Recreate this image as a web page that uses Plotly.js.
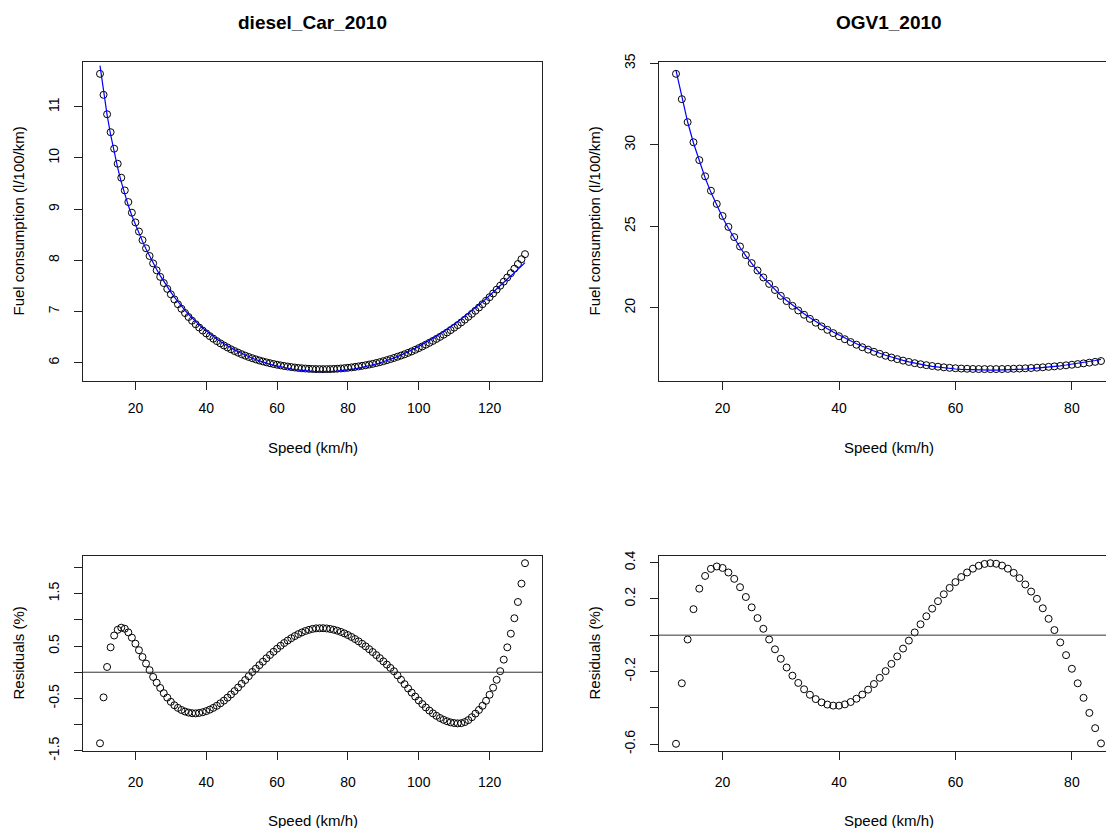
<!DOCTYPE html>
<html>
<head>
<meta charset="utf-8">
<script src="https://cdn.plot.ly/plotly-3.0.1.min.js"></script>
<style>html,body{margin:0;padding:0;background:#fff;}#plot{width:1106px;height:828px;}</style>
</head>
<body>
<div id="plot"></div>
<script>
// ---- diesel_Car_2010 ----
const dieselSpeed = [10,11,12,13,14,15,16,17,18,19,20,21,22,23,24,25,26,27,28,29,30,31,32,33,34,35,36,37,38,39,40,41,42,43,44,45,46,47,48,49,50,51,52,53,54,55,56,57,58,59,60,61,62,63,64,65,66,67,68,69,70,71,72,73,74,75,76,77,78,79,80,81,82,83,84,85,86,87,88,89,90,91,92,93,94,95,96,97,98,99,100,101,102,103,104,105,106,107,108,109,110,111,112,113,114,115,116,117,118,119,120,121,122,123,124,125,126,127,128,129,130];
const dieselFC = [11.642,11.232,10.852,10.502,10.180,9.885,9.613,9.365,9.138,8.930,8.740,8.562,8.394,8.235,8.084,7.940,7.805,7.677,7.556,7.442,7.336,7.236,7.142,7.054,6.971,6.893,6.820,6.752,6.688,6.628,6.572,6.519,6.469,6.422,6.378,6.337,6.298,6.262,6.228,6.196,6.166,6.138,6.112,6.088,6.065,6.044,6.025,6.007,5.990,5.975,5.961,5.948,5.936,5.925,5.915,5.906,5.898,5.891,5.886,5.881,5.878,5.876,5.875,5.874,5.875,5.876,5.879,5.883,5.888,5.894,5.901,5.909,5.918,5.928,5.939,5.951,5.964,5.978,5.994,6.011,6.030,6.050,6.071,6.093,6.116,6.140,6.165,6.192,6.221,6.252,6.285,6.318,6.353,6.389,6.426,6.465,6.505,6.547,6.591,6.637,6.685,6.735,6.787,6.841,6.897,6.955,7.015,7.078,7.143,7.210,7.280,7.352,7.427,7.504,7.583,7.665,7.749,7.837,7.928,8.022,8.120];
const dieselResid = [-1.356,-0.48,0.10,0.475,0.70,0.81,0.85,0.83,0.76,0.66,0.545,0.42,0.29,0.165,0.04,-0.09,-0.20,-0.30,-0.40,-0.485,-0.565,-0.63,-0.68,-0.72,-0.75,-0.77,-0.782,-0.785,-0.777,-0.763,-0.742,-0.714,-0.68,-0.64,-0.593,-0.542,-0.485,-0.424,-0.36,-0.292,-0.221,-0.149,-0.075,0.005,0.068,0.135,0.201,0.266,0.33,0.39,0.449,0.505,0.557,0.605,0.649,0.69,0.727,0.759,0.787,0.809,0.826,0.837,0.839,0.84,0.835,0.825,0.811,0.792,0.769,0.741,0.709,0.673,0.633,0.59,0.543,0.494,0.44,0.385,0.327,0.269,0.207,0.145,0.082,0.019,-0.06,-0.144,-0.228,-0.31,-0.389,-0.465,-0.539,-0.607,-0.672,-0.731,-0.785,-0.832,-0.874,-0.908,-0.936,-0.957,-0.97,-0.976,-0.972,-0.951,-0.913,-0.858,-0.79,-0.72,-0.64,-0.545,-0.43,-0.295,-0.145,0.02,0.24,0.475,0.735,1.03,1.34,1.69,2.08];

// ---- OGV1_2010 ----
const ogvSpeed = [12,13,14,15,16,17,18,19,20,21,22,23,24,25,26,27,28,29,30,31,32,33,34,35,36,37,38,39,40,41,42,43,44,45,46,47,48,49,50,51,52,53,54,55,56,57,58,59,60,61,62,63,64,65,66,67,68,69,70,71,72,73,74,75,76,77,78,79,80,81,82,83,84,85];
const ogvFC = [34.355,32.80,31.39,30.155,29.06,28.065,27.18,26.37,25.63,24.96,24.335,23.76,23.23,22.74,22.285,21.86,21.463,21.09,20.73,20.41,20.115,19.835,19.57,19.32,19.083,18.858,18.645,18.443,18.251,18.069,17.896,17.731,17.576,17.431,17.296,17.17,17.053,16.945,16.846,16.756,16.674,16.60,16.534,16.476,16.425,16.381,16.344,16.313,16.288,16.269,16.255,16.245,16.239,16.236,16.235,16.236,16.24,16.247,16.257,16.269,16.284,16.302,16.323,16.346,16.372,16.401,16.432,16.467,16.503,16.543,16.586,16.631,16.679,16.73];
const ogvResid = [-0.598,-0.265,-0.024,0.143,0.256,0.326,0.365,0.378,0.37,0.345,0.31,0.264,0.21,0.153,0.094,0.035,-0.024,-0.078,-0.13,-0.178,-0.223,-0.263,-0.298,-0.328,-0.352,-0.37,-0.382,-0.388,-0.388,-0.381,-0.368,-0.35,-0.327,-0.3,-0.269,-0.235,-0.198,-0.158,-0.117,-0.074,-0.03,0.015,0.06,0.104,0.146,0.187,0.225,0.26,0.292,0.32,0.345,0.366,0.382,0.392,0.396,0.393,0.383,0.366,0.343,0.314,0.279,0.24,0.2,0.148,0.09,0.028,-0.04,-0.11,-0.185,-0.265,-0.345,-0.428,-0.512,-0.596];

// fitted curve implied by the points and their % residuals
const dieselFit = dieselFC.map((v, i) => v / (1 + dieselResid[i] / 100));
const ogvFit = ogvFC.map((v, i) => v / (1 + ogvResid[i] / 100));

const FONT = 'Liberation Sans, Arial, Helvetica, sans-serif';
const W = 1106, H = 828;
const px = x => x / W;
const py = y => 1 - y / H;

const marker = {symbol: 'circle-open', size: 7, color: 'black', line: {width: 1, color: 'black'}};

const traces = [
  {x: dieselSpeed, y: dieselFC, xaxis: 'x', yaxis: 'y', mode: 'markers', type: 'scatter', marker: marker},
  {x: dieselSpeed, y: dieselFit, xaxis: 'x', yaxis: 'y', mode: 'lines', type: 'scatter', line: {color: '#0000ff', width: 1.2}},
  {x: ogvSpeed, y: ogvFC, xaxis: 'x2', yaxis: 'y2', mode: 'markers', type: 'scatter', marker: marker},
  {x: ogvSpeed, y: ogvFit, xaxis: 'x2', yaxis: 'y2', mode: 'lines', type: 'scatter', line: {color: '#0000ff', width: 1.2}},
  {x: dieselSpeed, y: dieselResid, xaxis: 'x3', yaxis: 'y3', mode: 'markers', type: 'scatter', marker: marker},
  {x: ogvSpeed, y: ogvResid, xaxis: 'x4', yaxis: 'y4', mode: 'markers', type: 'scatter', marker: marker}
];

const TICKSIZE = 14;
function xax(domain, range, anchor, standoff) {
  return {domain: domain, range: range, anchor: anchor, dtick: 20, tick0: 0,
    showline: true, mirror: true, linecolor: '#222', linewidth: 1,
    ticks: 'outside', ticklen: 8, tickwidth: 1, tickcolor: '#222',
    showgrid: false, zeroline: false, ticklabelstandoff: standoff,
    tickfont: {family: FONT, size: TICKSIZE, color: '#000'}, fixedrange: true};
}
function yax(domain, range, anchor, mirror, extra) {
  return Object.assign({domain: domain, range: range, anchor: anchor,
    showline: true, mirror: mirror, linecolor: '#222', linewidth: 1,
    ticks: 'outside', ticklen: 8, tickwidth: 1, tickcolor: '#222',
    showgrid: false, zeroline: false, tickangle: -90, ticklabelstandoff: 9,
    tickfont: {family: FONT, size: TICKSIZE, color: '#000'}, fixedrange: true}, extra);
}

const xL = [px(83), px(542)];
const xR = [px(659), 1];
const yT = [py(381), py(62)];
const yB = [py(751), py(556)];

const TITLE = {family: FONT, size: 19, color: '#000'};
const LAB = {family: FONT, size: 15, color: '#000'};

const layout = {
  width: W, height: H,
  margin: {l: 0, r: 0, t: 0, b: 0},
  paper_bgcolor: '#fff', plot_bgcolor: '#fff',
  showlegend: false,
  xaxis: xax(xL, [5.2, 134.8], 'y', 6),
  yaxis: yax(yT, [5.643, 11.873], 'x', true, {tickvals: [6,7,8,9,10,11], ticktext: ['6','7','8','9','10','11']}),
  xaxis2: xax(xR, [9.08, 85.86], 'y2', 6),
  yaxis2: yax(yT, [15.505, 35.08], 'x2', false, {tickvals: [20,25,30,35], ticktext: ['20','25','30','35']}),
  xaxis3: xax(xL, [5.2, 134.8], 'y3', 10),
  yaxis3: yax(yB, [-1.503, 2.2174], 'x3', true, {tickvals: [-1.5,-1,-0.5,0,0.5,1,1.5,2], ticktext: ['-1.5','','-0.5','','0.5','','1.5','']}),
  xaxis4: xax(xR, [9.08, 85.86], 'y4', 10),
  yaxis4: yax(yB, [-0.6377, 0.4357], 'x4', false, {tickvals: [-0.6,-0.4,-0.2,0,0.2,0.4], ticktext: ['-0.6','','-0.2','','0.2','0.4']}),
  shapes: [
    {type: 'line', xref: 'x3 domain', yref: 'y3', x0: 0, x1: 1, y0: 0, y1: 0, line: {color: '#333', width: 1}},
    {type: 'line', xref: 'x4 domain', yref: 'y4', x0: 0, x1: 1.03, y0: 0, y1: 0, line: {color: '#333', width: 1}}
  ],
  annotations: [
    {text: '<b>diesel_Car_2010</b>', x: px(312.5), y: py(22), xref: 'paper', yref: 'paper', showarrow: false, xanchor: 'center', yanchor: 'middle', font: TITLE},
    {text: '<b>OGV1_2010</b>', x: px(888.5), y: py(22), xref: 'paper', yref: 'paper', showarrow: false, xanchor: 'center', yanchor: 'middle', font: TITLE},
    {text: 'Speed (km/h)', x: px(312.5), y: py(448), xref: 'paper', yref: 'paper', showarrow: false, xanchor: 'center', yanchor: 'middle', font: LAB},
    {text: 'Speed (km/h)', x: px(888.5), y: py(448), xref: 'paper', yref: 'paper', showarrow: false, xanchor: 'center', yanchor: 'middle', font: LAB},
    {text: 'Speed (km/h)', x: px(312.5), y: py(820), xref: 'paper', yref: 'paper', showarrow: false, xanchor: 'center', yanchor: 'middle', font: LAB},
    {text: 'Speed (km/h)', x: px(888.5), y: py(820), xref: 'paper', yref: 'paper', showarrow: false, xanchor: 'center', yanchor: 'middle', font: LAB},
    {text: 'Fuel consumption (l/100/km)', x: px(18), y: py(221.5), xref: 'paper', yref: 'paper', showarrow: false, textangle: -90, xanchor: 'center', yanchor: 'middle', font: LAB},
    {text: 'Fuel consumption (l/100/km)', x: px(594), y: py(221.5), xref: 'paper', yref: 'paper', showarrow: false, textangle: -90, xanchor: 'center', yanchor: 'middle', font: LAB},
    {text: 'Residuals (%)', x: px(18), y: py(653.5), xref: 'paper', yref: 'paper', showarrow: false, textangle: -90, xanchor: 'center', yanchor: 'middle', font: LAB},
    {text: 'Residuals (%)', x: px(594), y: py(653.5), xref: 'paper', yref: 'paper', showarrow: false, textangle: -90, xanchor: 'center', yanchor: 'middle', font: LAB}
  ]
};

Plotly.newPlot('plot', traces, layout, {displayModeBar: false, staticPlot: true});
</script>
</body>
</html>
